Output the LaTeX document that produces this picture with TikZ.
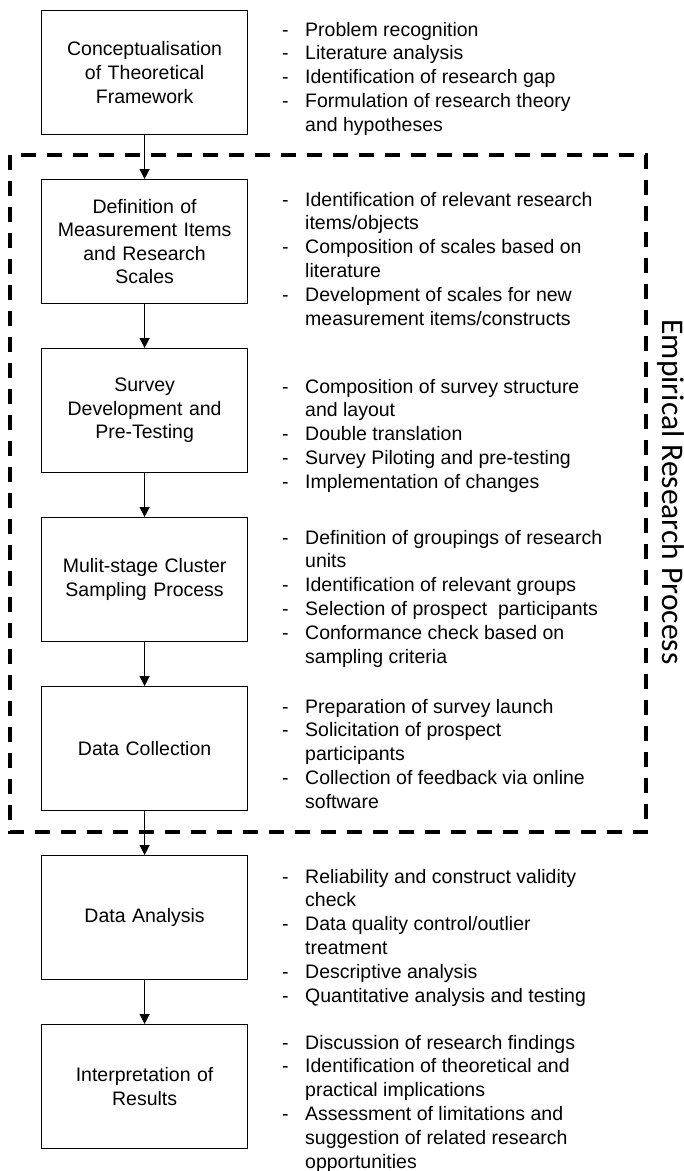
\documentclass[tikz,border=0pt]{standalone}
\usepackage{fontspec}
\setmainfont{Liberation Sans}
\newfontfamily\labelfont{Carlito}
\usetikzlibrary{arrows.meta}
\begin{document}
\begin{tikzpicture}[x=1pt,y=-1pt,
  stepbox/.style={draw, line width=1.2pt, minimum width=206pt, minimum height=124pt,
    text width=200pt, align=center, inner sep=0pt,
    font=\fontsize{19.5}{23.6}\selectfont, anchor=north west},
  flow/.style={line width=1.2pt, -{Triangle[width=10pt,length=10pt]}},
  items/.style={anchor=base west, inner sep=0pt, font=\fontsize{19.5}{23.8}\selectfont},
  frame/.style={line width=4pt, dash pattern=on 15pt off 11pt},
  sidelabel/.style={rotate=-90, anchor=base, inner sep=0pt,
    font=\labelfont\fontsize{31.5}{36}\selectfont}
]
\useasboundingbox (0,0) rectangle (684,1171);

% dashed frame
\draw[frame] (10,155) rectangle (646,832);
\node[sidelabel] (lbl) at (662,492) {Empirical Research Process};

% boxes
\node[stepbox] (b1) at (41,10)   {Conceptualisation\\ of Theoretical\\ Framework};
\node[stepbox] (b2) at (41,179)  {Definition of\\ Measurement Items\\ and Research\\ Scales};
\node[stepbox] (b3) at (41,348)  {Survey\\ Development and\\ Pre-Testing};
\node[stepbox] (b4) at (41,517)  {Mulit-stage Cluster\\ Sampling Process};
\node[stepbox] (b5) at (41,686)  {Data Collection};
\node[stepbox] (b6) at (41,855)  {Data Analysis};
\node[stepbox] (b7) at (41,1024) {Interpretation of\\ Results};

% arrows
\draw[flow] (b1.south) -- (b2.north);
\draw[flow] (b2.south) -- (b3.north);
\draw[flow] (b3.south) -- (b4.north);
\draw[flow] (b4.south) -- (b5.north);
\draw[flow] (b5.south) -- (b6.north);
\draw[flow] (b6.south) -- (b7.north);

% item lists
\node[items] (t1) at (282,36) {\begin{tabular}[t]{@{}p{23pt}@{}l@{}}
- & Problem recognition\\
- & Literature analysis\\
- & Identification of research gap\\
- & Formulation of research theory\\
  & and hypotheses\end{tabular}};
\node[items] (t2) at (282,206) {\begin{tabular}[t]{@{}p{23pt}@{}l@{}}
- & Identification of relevant research\\
  & items/objects\\
- & Composition of scales based on\\
  & literature\\
- & Development of scales for new\\
  & measurement items/constructs\end{tabular}};
\node[items] (t3) at (282,393) {\begin{tabular}[t]{@{}p{23pt}@{}l@{}}
- & Composition of survey structure\\
  & and layout\\
- & Double translation\\
- & Survey Piloting and pre-testing\\
- & Implementation of changes\end{tabular}};
\node[items] (t4) at (282,544) {\begin{tabular}[t]{@{}p{23pt}@{}l@{}}
- & Definition of groupings of research\\
  & units\\
- & Identification of relevant groups\\
- & Selection of prospect\ \ participants\\
- & Conformance check based on\\
  & sampling criteria\end{tabular}};
\node[items] (t5) at (282,713) {\begin{tabular}[t]{@{}p{23pt}@{}l@{}}
- & Preparation of survey launch\\
- & Solicitation of prospect\\
  & participants\\
- & Collection of feedback via online\\
  & software\end{tabular}};
\node[items] (t6) at (282,883) {\begin{tabular}[t]{@{}p{23pt}@{}l@{}}
- & Reliability and construct validity\\
  & check\\
- & Data quality control/outlier\\
  & treatment\\
- & Descriptive analysis\\
- & Quantitative analysis and testing\end{tabular}};
\node[items] (t7) at (282,1049) {\begin{tabular}[t]{@{}p{23pt}@{}l@{}}
- & Discussion of research findings\\
- & Identification of theoretical and\\
  & practical implications\\
- & Assessment of limitations and\\
  & suggestion of related research\\
  & opportunities\end{tabular}};
\end{tikzpicture}
\end{document}
